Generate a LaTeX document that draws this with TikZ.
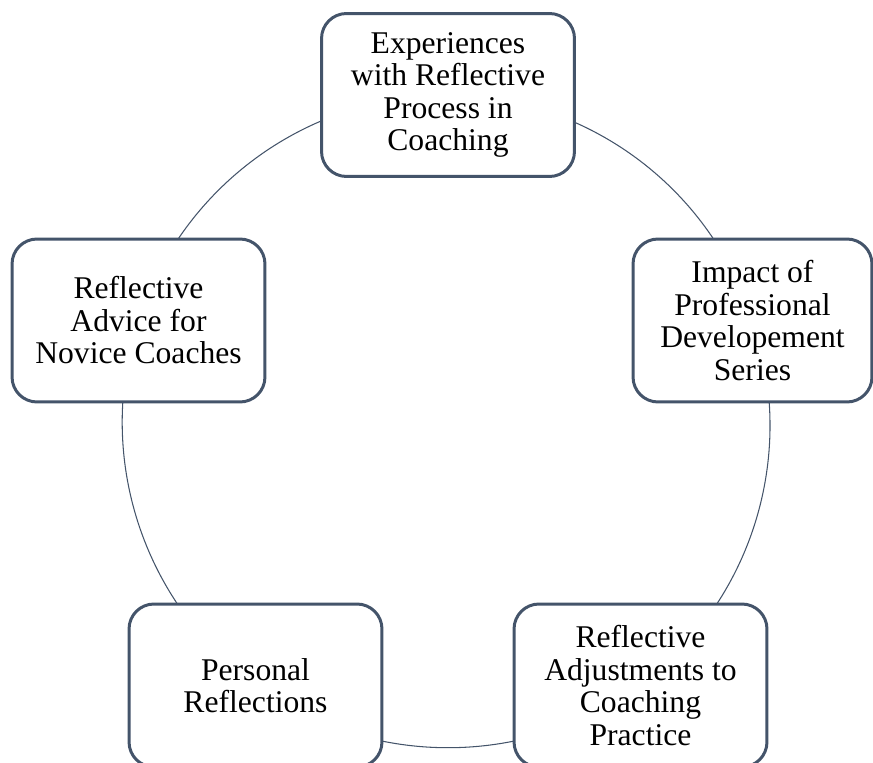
\documentclass[tikz,border=0pt]{standalone}
\usepackage{fontspec}
\setmainfont{Liberation Serif}
\usepackage{tikz}
\usetikzlibrary{backgrounds}
\definecolor{slate}{HTML}{44546A}

\begin{document}
\begin{tikzpicture}[x=0.02cm,y=-0.02cm,semithick]
\tikzstyle{topic}=[rectangle,rounded corners=0.5cm,draw=slate,line width=1.7pt,fill=white,text=black,align=center,minimum width=5.06cm,minimum height=3.26cm,font=\fontsize{18}{18.5}\selectfont]
\tikzstyle{ring}=[draw=slate,line width=0.6pt,bend left=36,looseness=0.94]

\useasboundingbox (0,0) rectangle (873,763);

\node[topic]                     (E) at (448,95)      {Experiences\\with Reflective\\Process in\\Coaching};
\node[topic,minimum width=4.78cm] (I) at (752.5,320.5) {Impact of\\Professional\\Developement\\Series};
\node[topic]                     (A) at (640.5,685.5) {Reflective\\Adjustments to\\Coaching\\Practice};
\node[topic]                     (P) at (255.5,685.5) {Personal\\Reflections};
\node[topic]                     (R) at (138.5,320.5) {Reflective\\Advice for\\Novice Coaches};

% the ring runs behind the boxes
\begin{pgfonlayer}{background}
\path (E.center) edge[ring] (I.center)
      (I.center) edge[ring] (A.center)
      (A.center) edge[ring] (P.center)
      (P.center) edge[ring] (R.center)
      (R.center) edge[ring] (E.center);
\end{pgfonlayer}
\end{tikzpicture}
\end{document}
